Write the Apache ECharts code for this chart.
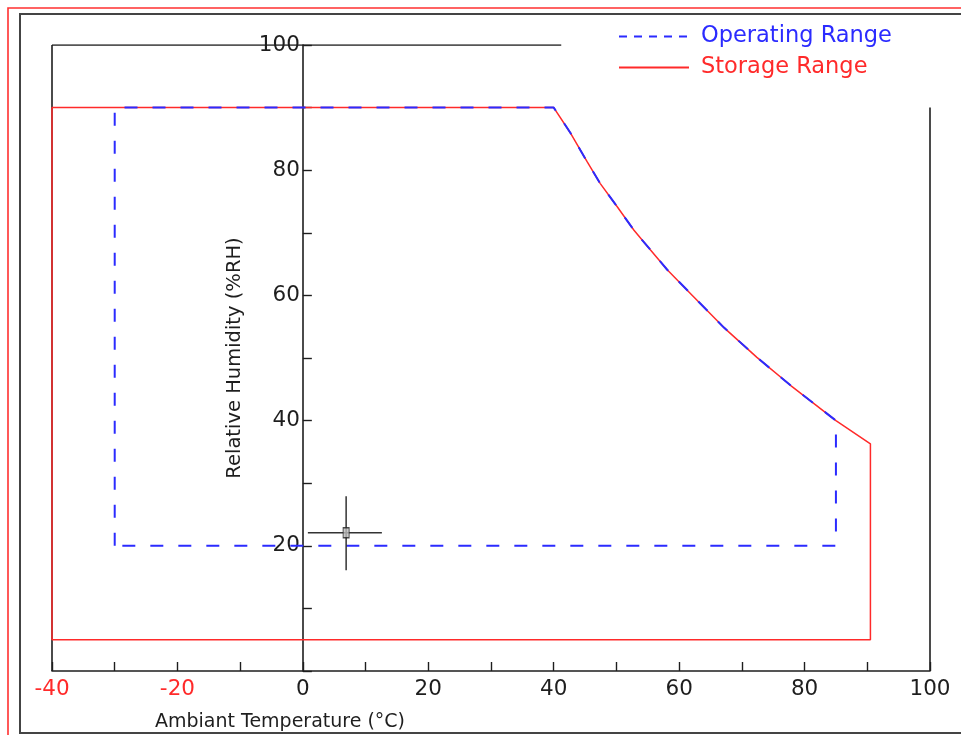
<!DOCTYPE html>
<html>
<head>
<meta charset="utf-8">
<script src="https://cdn.jsdelivr.net/npm/echarts@6/dist/echarts.min.js"></script>
<style>html,body{margin:0;padding:0;background:#fff;}#c{width:961px;height:735px;}</style>
</head>
<body>
<div id="c"></div>
<script>
// Shared humidity curve (upper-right boundary)
const curveTemp = [40, 42.7, 45.3, 47.4, 50.1, 52.8, 55.4, 58.1, 62.3, 67.1, 72.4, 77.8, 85];
const curveRH   = [90, 85.9, 81.4, 77.9, 74.2, 70.4, 67.3, 64.1, 59.8, 54.9, 50.1, 45.6, 40];

// Operating range corners
const opTempMin = -30, opTempMax = 85, opRHMin = 20, opRHMax = 90;
// Storage range corners
const stTempMin = -40, stTempMax = 90.5, stRHMin = 5, stRHMax = 90, stRHAtMax = 36.3;

// Axis settings
const xTicks = { min: -40, max: 100, step: 10, labelStep: 20 };
const yTicks = { min: 0, max: 100, step: 10, labelStep: 20 };

// Cursor crosshair seen in the picture
const cursorCenter = [6.9, 22.1];
const cursorH = [[0.8, 22.1], [12.6, 22.1]];
const cursorV = [[6.9, 16.1], [6.9, 27.9]];

// Frame segments drawn on the data scale
const frameTop = [[-40, 100], [41.2, 100]];
const frameLeft = [[-40, 0], [-40, 100]];
const frameRight = [[100, 0], [100, 90]];

const curvePts = curveTemp.map((t, i) => [t, curveRH[i]]);

const storageData = [].concat(
  curvePts,
  [[stTempMax, stRHAtMax], [stTempMax, stRHMin], [stTempMin, stRHMin], [stTempMin, stRHMax], [curveTemp[0], curveRH[0]]]
);
const operatingData = [].concat(
  [[opTempMin, opRHMin], [opTempMin, opRHMax]],
  curvePts,
  [[opTempMax, opRHMin], [opTempMin, opRHMin]]
);

const RED = '#ff2a2a', BLUE = '#2b2bff', BLACK = '#1e1e1e';
const FONT = 'DejaVu Sans';

const GRID = { left: 52, right: 31, top: 45, bottom: 64 };
const plotWidth = 961 - GRID.left - GRID.right;
// place the y axis at temperature 0 (moves line, ticks, labels and name together)
const yAxisOffset = -((0 - xTicks.min) / (xTicks.max - xTicks.min)) * plotWidth;

const chart = echarts.init(document.getElementById('c'), null, { renderer: 'canvas' });

function frameSeries(data) {
  return {
    type: 'line', data: data, symbol: 'none', silent: true,
    lineStyle: { color: BLACK, width: 1.6 }, z: 1, animation: false
  };
}

chart.setOption({
  animation: false,
  backgroundColor: '#ffffff',
  grid: Object.assign({ containLabel: false, outerBoundsMode: 'none' }, GRID),
  legend: {
    orient: 'vertical', left: 613, top: 20, itemWidth: 70, itemHeight: 14, itemGap: 8,
    itemStyle: { opacity: 0 },
    textStyle: { fontFamily: FONT, fontSize: 22.5, padding: [0, 0, 0, 7] },
    data: [
      { name: 'Operating Range', textStyle: { color: BLUE }, lineStyle: { type: [8, 7], width: 2 } },
      { name: 'Storage Range', textStyle: { color: RED }, lineStyle: { type: 'solid', width: 2 } }
    ]
  },
  xAxis: {
    type: 'value', min: xTicks.min, max: xTicks.max, interval: xTicks.step,
    name: 'Ambiant Temperature (°C)', nameLocation: 'middle', nameGap: 42,
    nameTextStyle: { fontFamily: FONT, fontSize: 19, color: BLACK, padding: [0, 422, 0, 0] },
    splitLine: { show: false },
    axisLine: { onZero: false, lineStyle: { color: BLACK, width: 1.6 } },
    axisTick: { inside: true, length: 9, lineStyle: { color: BLACK, width: 1.4 } },
    axisLabel: {
      margin: 7, fontFamily: FONT, fontSize: 21.5,
      formatter: v => (v % xTicks.labelStep === 0 ? String(v) : ''),
      color: v => (v < 0 ? RED : BLACK)
    }
  },
  yAxis: {
    type: 'value', min: yTicks.min, max: yTicks.max, interval: yTicks.step,
    position: 'left', offset: yAxisOffset,
    name: 'Relative Humidity (%RH)', nameLocation: 'middle', nameGap: 58,
    nameTextStyle: { fontFamily: FONT, fontSize: 19.5, color: BLACK },
    splitLine: { show: false },
    axisLine: { onZero: false, lineStyle: { color: BLACK, width: 1.6 } },
    axisTick: { inside: true, length: 9, lineStyle: { color: BLACK, width: 1.4 } },
    axisLabel: {
      margin: 3, fontFamily: FONT, fontSize: 21.5, color: BLACK,
      formatter: v => (v !== 0 && v % yTicks.labelStep === 0 ? String(v) : '')
    }
  },
  graphic: [
    { type: 'rect', silent: true, z: -10, shape: { x: 20, y: 14, width: 960, height: 719 },
      style: { fill: 'none', stroke: '#444', lineWidth: 2 } },
    { type: 'polyline', silent: true, z: -10, shape: { points: [[8, 740], [8, 8], [970, 8]] },
      style: { fill: 'none', stroke: '#ff3030', lineWidth: 1.6 } }
  ],
  series: [
    frameSeries(frameTop),
    frameSeries(frameLeft),
    frameSeries(frameRight),
    {
      name: 'Storage Range', type: 'line', data: storageData, symbol: 'none',
      lineStyle: { color: RED, width: 1.5, type: 'solid' }, itemStyle: { color: RED }, z: 3
    },
    {
      name: 'Operating Range', type: 'line', data: operatingData, symbol: 'none',
      lineStyle: { color: BLUE, width: 2, type: [13, 15] }, itemStyle: { color: BLUE }, z: 4
    },
    {
      type: 'line', data: cursorH, symbol: 'none', silent: true,
      lineStyle: { color: '#333', width: 1.5 }, z: 5
    },
    {
      type: 'line', data: cursorV, symbol: 'none', silent: true,
      lineStyle: { color: '#333', width: 1.5 }, z: 5
    },
    {
      type: 'scatter', data: [cursorCenter], symbol: 'rect', symbolSize: [6, 10], silent: true,
      itemStyle: { color: '#bbb', borderColor: '#222', borderWidth: 1.2 }, z: 6
    }
  ]
});
</script>
</body>
</html>
